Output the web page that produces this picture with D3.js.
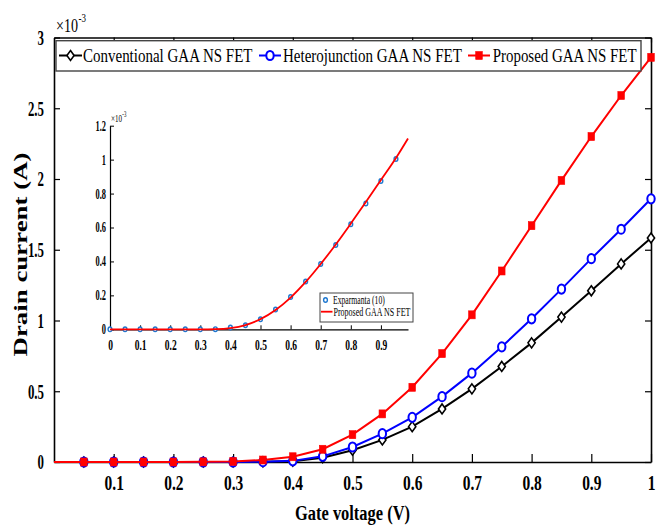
<!DOCTYPE html>
<html>
<head>
<meta charset="utf-8">
<script src="https://cdn.jsdelivr.net/npm/d3@7"></script>
<style>
  html, body { margin: 0; padding: 0; background: #fff; }
  svg { display: block; font-family: "Liberation Serif", "Times New Roman", serif; }
</style>
</head>
<body>
<svg id="chart" width="662" height="528"></svg>
<script>
// Gate voltage sweep (V)
const gateVoltage = [0, 0.05, 0.1, 0.15, 0.2, 0.25, 0.3, 0.35, 0.4, 0.45, 0.5,
                     0.55, 0.6, 0.65, 0.7, 0.75, 0.8, 0.85, 0.9, 0.95, 1.0];
// Drain current in units of 1e-3 A
const conventional   = [0, 0, 0, 0, 0, 0, 0, 0.001, 0.006, 0.03, 0.083,
                        0.156, 0.25, 0.375, 0.517, 0.675, 0.842, 1.024, 1.21, 1.40, 1.583];
const heterojunction = [0, 0, 0, 0, 0, 0, 0, 0.002, 0.008, 0.04, 0.106,
                        0.20, 0.316, 0.462, 0.628, 0.814, 1.012, 1.222, 1.437, 1.645, 1.86];
const proposed       = [0, 0, 0, 0, 0, 0.001, 0.004, 0.014, 0.037, 0.09, 0.193,
                        0.34, 0.528, 0.766, 1.04, 1.35, 1.67, 1.99, 2.30, 2.59, 2.86];
const seriesNames = ["Conventional GAA NS FET", "Heterojunction GAA NS FET", "Proposed GAA NS FET"];

// Main axis ticks
const xTicks = [0.1, 0.2, 0.3, 0.4, 0.5, 0.6, 0.7, 0.8, 0.9, 1];
const yTicks = [0, 0.5, 1, 1.5, 2, 2.5, 3];

// Inset: experimental reference vs. proposed model
const expVoltage = [0, 0.05, 0.1, 0.15, 0.2, 0.25, 0.3, 0.35, 0.4, 0.45, 0.5,
                    0.55, 0.6, 0.65, 0.7, 0.75, 0.8, 0.85, 0.9, 0.95];
const expCurrent = [0, 0, 0, 0, 0, 0, 0, 0.001, 0.01, 0.024, 0.059,
                    0.116, 0.19, 0.281, 0.385, 0.497, 0.619, 0.742, 0.874, 1.004];
const modelVoltage = [0, 0.05, 0.1, 0.15, 0.2, 0.25, 0.3, 0.35, 0.4, 0.45, 0.5,
                      0.55, 0.6, 0.65, 0.7, 0.75, 0.8, 0.85, 0.9, 0.95, 0.99];
const modelCurrent = [0, 0, 0, 0, 0, 0, 0, 0.001, 0.007, 0.025, 0.06,
                      0.114, 0.187, 0.279, 0.385, 0.5, 0.623, 0.75, 0.88, 1.01, 1.125];
const insetNames = ["Exparmanta (10)", "Proposed GAA NS FET"];
const insetXTicks = [0, 0.1, 0.2, 0.3, 0.4, 0.5, 0.6, 0.7, 0.8, 0.9];
const insetYTicks = [0, 0.2, 0.4, 0.6, 0.8, 1, 1.2];

const svg = d3.select("#chart");

// Condense a text horizontally about its own x anchor (scale factor sx)
function condense(sel, sx, pre) {
  sel.each(function () {
    const ax = +(this.getAttribute("x") || 0);
    const base = pre || "";
    d3.select(this).attr("transform",
      `${base} translate(${ax},0) scale(${sx},1) translate(${-ax},0)`);
  });
}
// Condense a text so that it spans the given width
function fitWidth(sel, width, pre) {
  const w = sel.node().getComputedTextLength();
  condense(sel, width / w, pre);
}

// ---------- main plot ----------
const x = d3.scaleLinear().domain([0, 1]).range([54, 651]);
const y = d3.scaleLinear().domain([0, 3]).range([462, 37.5]);

svg.append("rect").attr("x", x(0)).attr("y", y(3))
  .attr("width", x(1) - x(0)).attr("height", y(0) - y(3))
  .attr("fill", "#fff");

const axisStyle = g => {
  g.select(".domain").attr("stroke", "#000").attr("stroke-width", 1.6);
  g.selectAll(".tick line").attr("stroke", "#000").attr("stroke-width", 1.2);
};

const gx = svg.append("g").attr("transform", `translate(0,${y(0)})`)
  .call(d3.axisBottom(x).tickValues(xTicks).tickSizeInner(-8).tickSizeOuter(0)
    .tickPadding(13).tickFormat(d3.format("")))
  .call(axisStyle);
gx.selectAll("text").attr("font-size", 21.5).attr("font-weight", "bold")
  .attr("fill", "#000").attr("font-family", "Liberation Serif");
condense(gx.selectAll("text"), 0.72);

svg.append("g").attr("transform", `translate(0,${y(3)})`)
  .call(d3.axisTop(x).tickValues(xTicks).tickSizeInner(-5).tickSizeOuter(0).tickFormat(""))
  .call(axisStyle);

const gy = svg.append("g").attr("transform", `translate(${x(0)},0)`)
  .call(d3.axisLeft(y).tickValues(yTicks).tickSizeInner(-6).tickSizeOuter(0)
    .tickPadding(10).tickFormat(d3.format("")))
  .call(axisStyle);
gy.selectAll("text").attr("font-size", 21.5).attr("font-weight", "bold")
  .attr("fill", "#000").attr("font-family", "Liberation Serif");
condense(gy.selectAll("text"), 0.6);

svg.append("g").attr("transform", `translate(${x(1)},0)`)
  .call(d3.axisRight(y).tickValues(yTicks).tickSizeInner(-6).tickSizeOuter(0).tickFormat(""))
  .call(axisStyle);

// exponent above the y axis
const expoBase = svg.append("text").attr("x", 56).attr("y", 32)
  .attr("font-size", 18).attr("fill", "#000").text("×10");
fitWidth(expoBase, 22);
const expoPow = svg.append("text").attr("x", 78.5).attr("y", 22.5)
  .attr("font-size", 13).attr("fill", "#000").text("-3");
fitWidth(expoPow, 7.5);

// axis titles
const xt = svg.append("text").attr("x", 352.5).attr("y", 520)
  .attr("text-anchor", "middle").attr("font-size", 22).attr("font-weight", "bold")
  .attr("fill", "#000").text("Gate voltage (V)");
fitWidth(xt, 115);

const yt = svg.append("text").attr("x", 0).attr("y", 0)
  .attr("text-anchor", "middle").attr("font-size", 19).attr("font-weight", "bold")
  .attr("fill", "#000").text("Drain current (A)");
fitWidth(yt, 204, "translate(27,254.5) rotate(-90)");

// series
const series = [
  { name: seriesNames[0], values: conventional, color: "#000000", marker: "diamond" },
  { name: seriesNames[1], values: heterojunction, color: "#0000ff", marker: "circle" },
  { name: seriesNames[2], values: proposed, color: "#ff0000", marker: "square" }
];

const line = d3.line().x(d => x(d.v)).y(d => y(d.i));

function drawMarker(g, kind, color) {
  if (kind === "diamond") {
    g.append("path").attr("d", "M0,-5 L3.6,0 L0,5 L-3.6,0 Z")
      .attr("fill", "#fff").attr("stroke", color).attr("stroke-width", 1.6);
  } else if (kind === "circle") {
    g.append("ellipse").attr("rx", 3.7).attr("ry", 4.6)
      .attr("fill", "#fff").attr("stroke", color).attr("stroke-width", 2);
  } else {
    g.append("rect").attr("x", -3.3).attr("y", -4).attr("width", 6.6).attr("height", 8)
      .attr("fill", color).attr("stroke", color).attr("stroke-width", 0.6);
  }
}

series.forEach(s => {
  const pts = gateVoltage.map((v, k) => ({ v, i: s.values[k] }));
  svg.append("path").datum(pts).attr("d", line)
    .attr("fill", "none").attr("stroke", s.color).attr("stroke-width", 2);
  svg.append("g").selectAll("g").data(pts.filter(d => d.v > 0)).join("g")
    .attr("transform", d => `translate(${x(d.v)},${y(d.i)})`)
    .each(function () { drawMarker(d3.select(this), s.marker, s.color); });
});

// legend
const legend = svg.append("g");
legend.append("rect").attr("x", 56).attr("y", 40.7).attr("width", 585).attr("height", 30.3)
  .attr("fill", "#fff").attr("stroke", "#444").attr("stroke-width", 1.4);
const legendItems = [
  { x0: 59, x1: 82, tx: 83, tw: 169.5 },
  { x0: 259, x1: 281, tx: 283, tw: 179 },
  { x0: 468, x1: 490, tx: 492.7, tw: 144 }
];
series.forEach((s, k) => {
  const it = legendItems[k];
  legend.append("line").attr("x1", it.x0).attr("x2", it.x1).attr("y1", 55.5).attr("y2", 55.5)
    .attr("stroke", s.color).attr("stroke-width", 2);
  const m = legend.append("g").attr("transform", `translate(${(it.x0 + it.x1) / 2},55.5)`);
  drawMarker(m, s.marker, s.color);
  const t = legend.append("text").attr("x", it.tx).attr("y", 62).attr("font-size", 18.7)
    .attr("fill", "#000").text(s.name);
  fitWidth(t, it.tw);
});

// ---------- inset ----------
const xi = d3.scaleLinear().domain([0, 0.99]).range([110, 408]);
const yi = d3.scaleLinear().domain([0, 1.2]).range([329.3, 125.7]);

const insetStyle = g => {
  g.select(".domain").attr("stroke", "#000").attr("stroke-width", 1.2);
  g.selectAll(".tick line").attr("stroke", "#000").attr("stroke-width", 1);
  g.selectAll("text").attr("font-size", 14).attr("font-weight", "bold")
    .attr("fill", "#000").attr("font-family", "Liberation Serif");
};

const gxi = svg.append("g").attr("transform", `translate(0,${yi(0)})`)
  .call(d3.axisBottom(xi).tickValues(insetXTicks).tickSizeInner(-4).tickSizeOuter(0)
    .tickPadding(10.5).tickFormat(d3.format("")))
  .call(insetStyle);
condense(gxi.selectAll("text"), 0.68);

const gyi = svg.append("g").attr("transform", `translate(${xi(0)},0)`)
  .call(d3.axisLeft(yi).tickValues(insetYTicks).tickSizeInner(-4).tickSizeOuter(0)
    .tickPadding(4).tickFormat(d3.format("")))
  .call(insetStyle);
condense(gyi.selectAll("text"), 0.6);

const expoIBase = svg.append("text").attr("x", 111).attr("y", 122.5)
  .attr("font-size", 10.5).attr("fill", "#000").text("×10");
fitWidth(expoIBase, 11);
const expoIPow = svg.append("text").attr("x", 122.3).attr("y", 117)
  .attr("font-size", 7.5).attr("fill", "#000").text("-3");
fitWidth(expoIPow, 4);

const modelPts = modelVoltage.map((v, k) => ({ v, i: modelCurrent[k] }));
const expPts = expVoltage.map((v, k) => ({ v, i: expCurrent[k] }));

svg.append("g").selectAll("ellipse").data(expPts).join("ellipse")
  .attr("cx", d => xi(d.v)).attr("cy", d => yi(d.i))
  .attr("rx", 1.9).attr("ry", 2.3)
  .attr("fill", "#fff").attr("stroke", "#1f78d0").attr("stroke-width", 1.4);

svg.append("path").datum(modelPts)
  .attr("d", d3.line().x(d => xi(d.v)).y(d => yi(d.i)).curve(d3.curveMonotoneX))
  .attr("fill", "none").attr("stroke", "#ff0000").attr("stroke-width", 1.8);

// inset legend
const il = svg.append("g");
il.append("rect").attr("x", 320).attr("y", 293).attr("width", 93).attr("height", 29)
  .attr("fill", "#fff").attr("stroke", "#444").attr("stroke-width", 1);
il.append("ellipse").attr("cx", 325.5).attr("cy", 300).attr("rx", 1.9).attr("ry", 2.3)
  .attr("fill", "#fff").attr("stroke", "#1f78d0").attr("stroke-width", 1.4);
fitWidth(il.append("text").attr("x", 333).attr("y", 304).attr("font-size", 11.5)
  .attr("fill", "#000").text(insetNames[0]), 52);
il.append("line").attr("x1", 321).attr("x2", 332.5).attr("y1", 311.7).attr("y2", 311.7)
  .attr("stroke", "#ff0000").attr("stroke-width", 1.8);
fitWidth(il.append("text").attr("x", 333.5).attr("y", 316).attr("font-size", 11.5)
  .attr("fill", "#000").text(insetNames[1]), 77);
</script>
</body>
</html>
